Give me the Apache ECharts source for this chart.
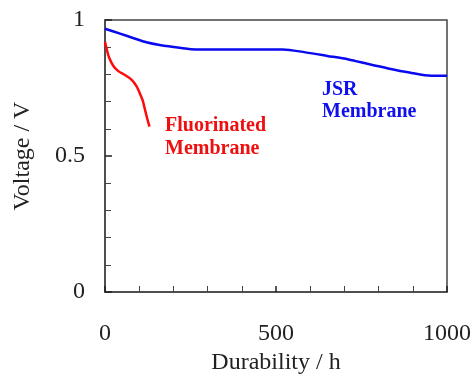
<!DOCTYPE html>
<html>
<head>
<meta charset="utf-8">
<script src="https://cdn.jsdelivr.net/npm/echarts@6/dist/echarts.min.js"></script>
<style>
  html, body { margin: 0; padding: 0; background: #fff; }
  #main { width: 474px; height: 380px; }
</style>
</head>
<body>
<div id="main"></div>
<script>
var chartDom = document.getElementById('main');
var myChart = echarts.init(chartDom);
var option;

// Durability (h) vs voltage (V)
const jsrTime = [0, 44, 82, 121, 160, 218, 266, 400, 520, 586, 650, 712, 770, 828, 890, 954, 1000];
const jsrVolt = [0.968, 0.950, 0.934, 0.918, 0.908, 0.898, 0.892, 0.892, 0.892, 0.881, 0.868, 0.855, 0.838, 0.822, 0.807, 0.795, 0.795];

const fluoTime = [0, 5, 12, 24, 39, 58, 78, 92, 102, 110, 118, 124, 130];
const fluoVolt = [0.920, 0.893, 0.862, 0.832, 0.812, 0.798, 0.780, 0.757, 0.730, 0.705, 0.665, 0.635, 0.608];

const fontFam = '"Liberation Serif", "Times New Roman", serif';
const axisColor = '#444';

function pairs(xs, ys) {
  return xs.map(function (x, i) { return [x, ys[i]]; });
}

option = {
  backgroundColor: '#fff',
  animation: false,
  grid: {
    left: 105,
    right: 25,
    top: 20,
    bottom: 88,
    show: true,
    borderColor: axisColor,
    borderWidth: 1.5,
    backgroundColor: 'transparent'
  },
  xAxis: {
    type: 'value',
    min: 0,
    max: 1000,
    interval: 500,
    name: 'Durability / h',
    nameLocation: 'middle',
    nameGap: 57,
    nameTextStyle: { fontFamily: fontFam, fontSize: 24, color: '#222' },
    axisLine: { show: true, lineStyle: { color: axisColor, width: 1.5 } },
    axisTick: { show: true, inside: true, length: 6, lineStyle: { color: '#222', width: 1.5 } },
    minorTick: { show: true, splitNumber: 5, length: 6, lineStyle: { color: axisColor, width: 1 } },
    axisLabel: {
      margin: 30,
      fontFamily: fontFam,
      fontSize: 24,
      color: '#222',
      formatter: function (v) { return String(v); }
    },
    splitLine: { show: false }
  },
  yAxis: {
    type: 'value',
    min: 0,
    max: 1,
    interval: 0.5,
    name: 'Voltage / V',
    nameLocation: 'middle',
    nameGap: 70,
    nameTextStyle: { fontFamily: fontFam, fontSize: 24, color: '#222' },
    axisLine: { show: true, lineStyle: { color: axisColor, width: 1.5 } },
    axisTick: { show: true, inside: true, length: 7, lineStyle: { color: '#222', width: 1.5 } },
    minorTick: { show: true, splitNumber: 5, length: 6, lineStyle: { color: axisColor, width: 1 } },
    axisLabel: { margin: 20, fontFamily: fontFam, fontSize: 24, color: '#222' },
    splitLine: { show: false }
  },
  graphic: [
    {
      type: 'text',
      left: 322,
      top: 79,
      style: {
        text: 'JSR\nMembrane',
        fill: '#1010ee',
        font: 'bold 20px ' + fontFam,
        lineHeight: 22
      }
    },
    {
      type: 'text',
      left: 165,
      top: 114,
      style: {
        text: 'Fluorinated\nMembrane',
        fill: '#ee1010',
        font: 'bold 20px ' + fontFam,
        lineHeight: 23
      }
    }
  ],
  series: [
    {
      name: 'JSR Membrane',
      type: 'line',
      data: pairs(jsrTime, jsrVolt),
      showSymbol: false,
      smooth: 0.3,
      lineStyle: { color: '#0a0aee', width: 2.5 }
    },
    {
      name: 'Fluorinated Membrane',
      type: 'line',
      data: pairs(fluoTime, fluoVolt),
      showSymbol: false,
      smooth: 0.3,
      lineStyle: { color: '#ff0a0a', width: 2.5 }
    }
  ]
};

option && myChart.setOption(option);
</script>
</body>
</html>
